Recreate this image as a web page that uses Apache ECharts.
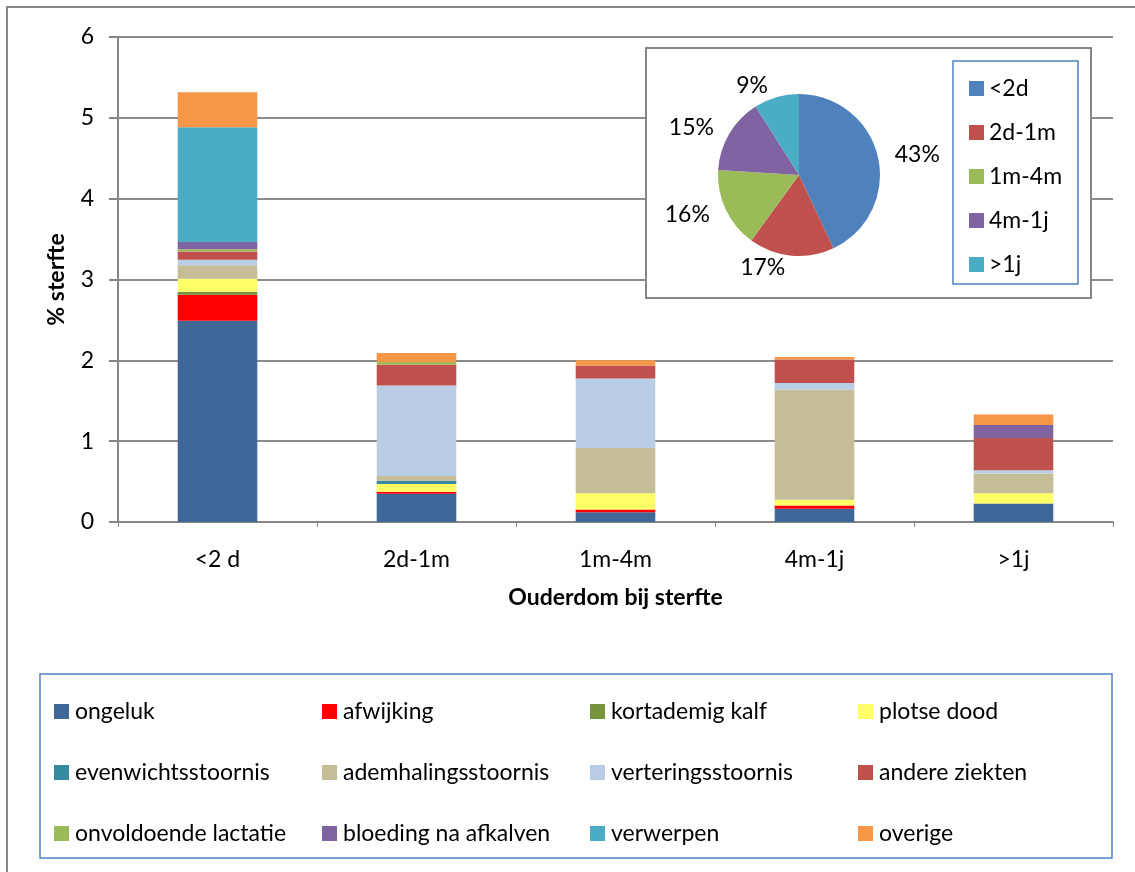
<!DOCTYPE html>
<html>
<head>
<meta charset="utf-8">
<script src="https://cdn.jsdelivr.net/npm/echarts@6/dist/echarts.min.js"></script>
<style>
  html, body { margin: 0; padding: 0; background: #fff; }
  #main { width: 1135px; height: 872px; }
</style>
</head>
<body>
<div id="main"></div>
<script>
// categories (ouderdom bij sterfte)
var categories = ['<2 d', '2d-1m', '1m-4m', '4m-1j', '>1j'];

// % sterfte per oorzaak, per leeftijdsklasse
var ongeluk             = [2.49, 0.35, 0.12, 0.165, 0.23];
var afwijking           = [0.32, 0.025, 0.035, 0.04, 0];
var kortademigKalf      = [0.04, 0, 0, 0, 0];
var plotseDood          = [0.16, 0.095, 0.20, 0.07, 0.125];
var evenwichtsstoornis  = [0, 0.04, 0, 0, 0];
var ademhalingsstoornis = [0.165, 0.06, 0.56, 1.365, 0.245];
var verteringsstoornis  = [0.07, 1.12, 0.86, 0.08, 0.04];
var andereZiekten       = [0.10, 0.26, 0.16, 0.29, 0.40];
var onvoldoendeLactatie = [0.03, 0.03, 0, 0, 0];
var bloeding            = [0.09, 0, 0, 0, 0.16];
var verwerpen           = [1.42, 0, 0, 0, 0];
var overige             = [0.43, 0.11, 0.065, 0.03, 0.13];

// pie: aandeel per leeftijdsklasse (%)
var pieNames  = ['<2d', '2d-1m', '1m-4m', '4m-1j', '>1j'];
var pieValues = [43, 17, 16, 15, 9];

var FONT = 'Lato, "Open Sans", sans-serif';
var FS = 23;

var causes = [
  { name: 'ongeluk',              data: ongeluk,             color: '#3F6899' },
  { name: 'afwijking',            data: afwijking,           color: '#FF0000' },
  { name: 'kortademig kalf',      data: kortademigKalf,      color: '#77933C' },
  { name: 'plotse dood',          data: plotseDood,          color: '#FFFF66' },
  { name: 'evenwichtsstoornis',   data: evenwichtsstoornis,  color: '#378BA0' },
  { name: 'ademhalingsstoornis',  data: ademhalingsstoornis, color: '#C4BD97' },
  { name: 'verteringsstoornis',   data: verteringsstoornis,  color: '#B9CDE5' },
  { name: 'andere ziekten',       data: andereZiekten,       color: '#C0504D' },
  { name: 'onvoldoende lactatie', data: onvoldoendeLactatie, color: '#9BBB59' },
  { name: 'bloeding na afkalven', data: bloeding,            color: '#8064A2' },
  { name: 'verwerpen',            data: verwerpen,           color: '#4BACC6' },
  { name: 'overige',              data: overige,             color: '#F79646' }
];
var pieColors = ['#4F81BD', '#C0504D', '#9BBB59', '#8064A2', '#4BACC6'];

var series = causes.map(function (c) {
  return {
    name: c.name,
    type: 'bar',
    stack: 'sterfte',
    barWidth: '40%',
    itemStyle: { color: c.color },
    emphasis: { disabled: true },
    data: c.data
  };
});

series.push({
  name: 'aandeel',
  type: 'pie',
  z: 10,
  center: [799, 175],
  radius: 81,
  startAngle: 90,
  clockwise: true,
  label: {
    show: true,
    position: 'outside',
    formatter: '{c}%',
    fontFamily: FONT,
    fontSize: FS,
    color: '#000'
  },
  labelLine: { show: false, length: 12, length2: 0 },
  itemStyle: { borderWidth: 0 },
  emphasis: { disabled: true },
  data: pieNames.map(function (n, i) {
    return { name: n, value: pieValues[i], itemStyle: { color: pieColors[i] } };
  })
});

// one legend per item so the columns line up like the original
var legends = causes.map(function (c, i) {
  return {
    data: [c.name],
    left: 49 + (i % 4) * 268,
    top: 695 + Math.floor(i / 4) * 61,
    itemWidth: 15,
    itemHeight: 15,
    itemGap: 5,
    icon: 'rect',
    selectedMode: false,
    textStyle: { fontFamily: FONT, fontSize: FS, color: '#000', padding: [0, 0, 0, 1] }
  };
});
legends.push({
  data: pieNames,
  left: 964,
  top: 72,
  orient: 'vertical',
  z: 8,
  itemWidth: 15,
  itemHeight: 15,
  itemGap: 21,
  icon: 'rect',
  selectedMode: false,
  textStyle: { fontFamily: FONT, fontSize: FS, color: '#000', padding: [0, 0, 0, 0] }
});

var option = {
  animation: false,
  grid: { left: 118, top: 37, right: 22, bottom: 350 },
  xAxis: {
    type: 'category',
    data: categories,
    name: 'Ouderdom bij sterfte',
    nameLocation: 'middle',
    nameGap: 64,
    nameTextStyle: { fontFamily: FONT, fontSize: FS, fontWeight: 'bold', color: '#000' },
    axisLine: { lineStyle: { color: '#868686', width: 2 } },
    axisTick: { show: true, length: 5, lineStyle: { color: '#868686' } },
    axisLabel: { fontFamily: FONT, fontSize: FS, color: '#000', margin: 26 }
  },
  yAxis: {
    type: 'value',
    min: 0,
    max: 6,
    interval: 1,
    name: '% sterfte',
    nameLocation: 'middle',
    nameGap: 50,
    nameRotate: 90,
    nameTextStyle: { fontFamily: FONT, fontSize: FS, fontWeight: 'bold', color: '#000' },
    axisLine: { show: true, lineStyle: { color: '#868686', width: 2 } },
    axisTick: { show: true, length: 9, lineStyle: { color: '#868686', width: 2 } },
    axisLabel: { fontFamily: FONT, fontSize: FS, color: '#000', margin: 24 },
    splitLine: { lineStyle: { color: '#8C8C8C', width: 2 } }
  },
  legend: legends,
  graphic: [
    { type: 'rect', z: 0, shape: { x: 7, y: 7, width: 1300, height: 1000 },
      style: { fill: 'none', stroke: '#868686', lineWidth: 2 } },
    { type: 'rect', z: 3, shape: { x: 646, y: 48, width: 445, height: 250 },
      style: { fill: '#fff', stroke: '#868686', lineWidth: 2 } },
    { type: 'rect', z: 3, shape: { x: 953, y: 61, width: 125, height: 223 },
      style: { fill: '#fff', stroke: '#4F81BD', lineWidth: 1.5 } },
    { type: 'rect', z: 0, shape: { x: 40, y: 674, width: 1072, height: 184 },
      style: { fill: 'none', stroke: '#4F81BD', lineWidth: 1.5 } }
  ],
  series: series
};

var chart = echarts.init(document.getElementById('main'));
chart.setOption(option);
</script>
</body>
</html>
